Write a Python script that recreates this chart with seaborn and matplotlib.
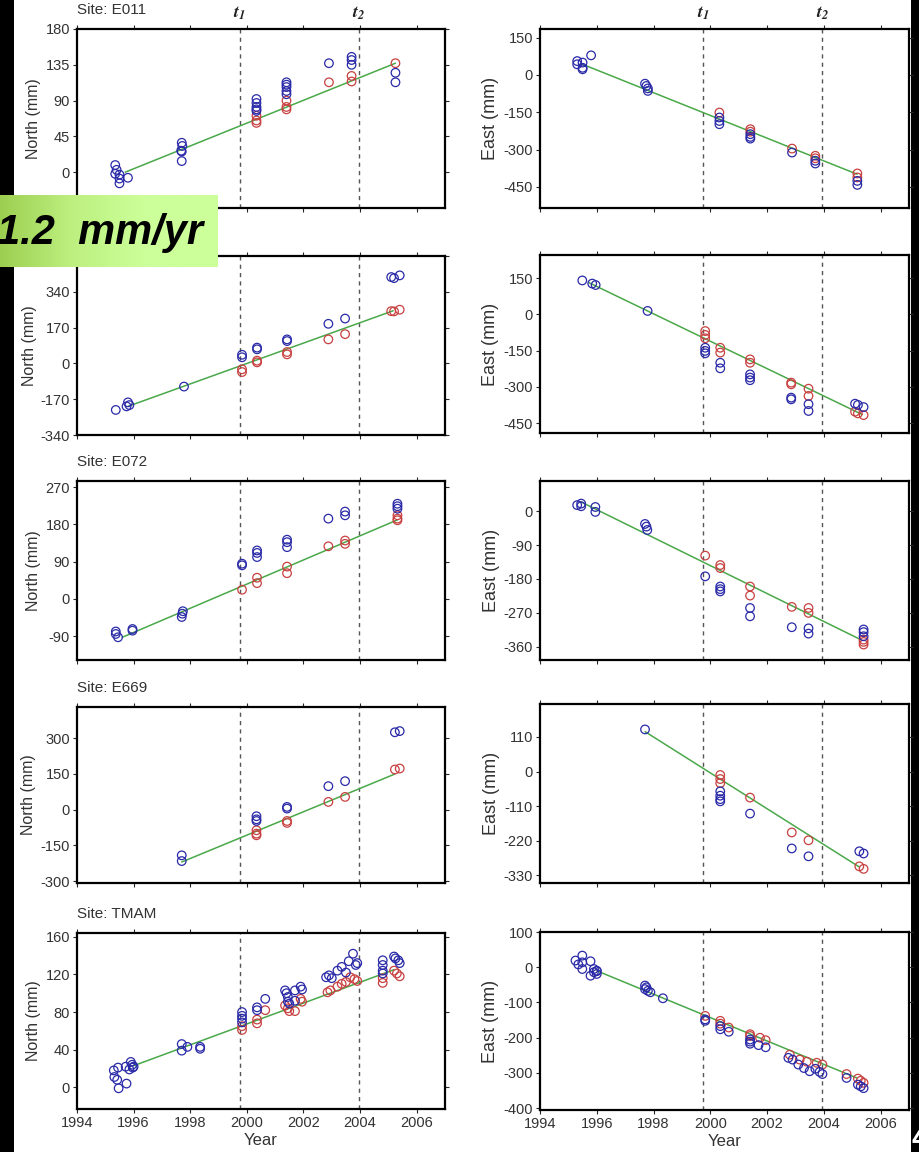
import numpy as np
import seaborn as sns
import matplotlib
matplotlib.use("Agg")
import matplotlib.pyplot as plt
from matplotlib.patches import Rectangle
from matplotlib.colors import LinearSegmentedColormap
import matplotlib.transforms as mtransforms

sns.set_style("ticks")
plt.rcParams['font.family'] = ['Liberation Sans', 'DejaVu Sans']
plt.rcParams['mathtext.fontset'] = 'stix'
plt.rcParams['axes.unicode_minus'] = False

# ---- data ----
t1, t2 = 1999.75, 2003.95
sites = ["Site: E011", "", "Site: E072", "Site: E669", "Site: TMAM"]

# E011
e011_n_blue_t = [1995.35, 1995.35, 1995.4, 1995.5, 1995.5, 1995.5, 1995.8, 1997.7, 1997.72, 1997.68, 1997.7, 1997.7,
                 2000.34, 2000.34, 2000.34, 2000.34, 2000.34, 2001.4, 2001.4, 2001.4, 2001.4, 2001.4,
                 2002.9, 2003.7, 2003.7, 2003.7, 2005.25, 2005.25]
e011_n_blue = [9, -2, 3, -3, -8, -14, -7, 37, 33, 27, 26, 14, 92, 87, 82, 79, 77, 113, 110, 107, 102, 98,
               137, 145, 141, 135, 125, 113]
e011_n_red_t = [2000.34, 2000.34, 2000.34, 2001.4, 2001.4, 2001.4, 2002.9, 2003.7, 2003.7, 2005.25]
e011_n_red = [71, 65, 62, 90, 82, 79, 113, 121, 114, 137]
e011_n_fit_t = [1995.7, 2005.25]
e011_n_fit = [0, 137]

e011_e_blue_t = [1995.31, 1995.31, 1995.5, 1995.5, 1995.5, 1995.8, 1997.7, 1997.75, 1997.8, 1997.8,
                 2000.32, 2000.32, 2000.32, 2001.41, 2001.41, 2001.41, 2002.88, 2003.7, 2003.7, 2005.18, 2005.18]
e011_e_blue = [56, 43, 50, 29, 23, 79, -35, -44, -54, -64, -171, -185, -198, -238, -249, -256, -312,
               -345, -356, -426, -442]
e011_e_red_t = [2000.32, 2001.41, 2001.41, 2002.88, 2003.7, 2003.7, 2005.18, 2005.18]
e011_e_red = [-151, -218, -228, -296, -325, -335, -396, -412]
e011_e_fit_t = [1995.5, 2005.17]
e011_e_fit = [43, -399]

# second site (name hidden under the label)
s2_n_blue_t = [1995.37, 1995.75, 1995.8, 1995.85, 1997.78, 1999.83, 1999.83, 2000.36, 2000.36, 2001.42, 2001.42,
               2002.88, 2003.47, 2005.1, 2005.2, 2005.4]
s2_n_blue = [-221, -204, -185, -198, -110, 41, 29, 75, 67, 114, 106, 188, 213, 410, 405, 418]
s2_n_red_t = [1999.83, 1999.83, 2000.36, 2000.36, 2001.42, 2001.42, 2002.88, 2003.47, 2005.1, 2005.2, 2005.4]
s2_n_red = [-28, -41, 13, 5, 54, 43, 114, 139, 248, 247, 255]
s2_n_fit_t = [1995.8, 2005.17]
s2_n_fit = [-204, 250]

s2_e_blue_t = [1995.49, 1995.84, 1995.96, 1997.79, 1999.82, 1999.82, 1999.82, 2000.35, 2000.35, 2001.4, 2001.4,
               2001.4, 2002.85, 2002.85, 2003.46, 2003.46, 2005.1, 2005.2, 2005.4]
s2_e_blue = [140, 127, 121, 14, -138, -151, -161, -200, -223, -248, -261, -272, -344, -351, -371, -399,
             -369, -374, -383]
s2_e_red_t = [1999.82, 1999.82, 1999.82, 2000.35, 2000.35, 2001.4, 2001.4, 2002.85, 2002.85, 2003.46, 2003.46,
              2005.1, 2005.2, 2005.4]
s2_e_red = [-69, -85, -99, -138, -158, -186, -200, -282, -289, -307, -337, -402, -409, -416]
s2_e_fit_t = [1995.72, 2005.34]
s2_e_fit = [131, -413]

# E072
e072_n_blue_t = [1995.37, 1995.37, 1995.45, 1995.96, 1995.96, 1997.7, 1997.72, 1997.74, 1999.83, 1999.83,
                 2000.36, 2000.36, 2000.36, 2001.42, 2001.42, 2001.42, 2002.88, 2003.47, 2003.47,
                 2005.32, 2005.32, 2005.32]
e072_n_blue = [-79, -85, -93, -73, -77, -44, -36, -30, 85, 81, 117, 111, 101, 143, 137, 125, 194, 211, 202,
               230, 224, 218]
e072_n_red_t = [1999.83, 2000.36, 2000.36, 2001.42, 2001.42, 2002.88, 2003.47, 2003.47, 2005.32, 2005.32, 2005.32]
e072_n_red = [22, 51, 38, 78, 62, 127, 141, 133, 202, 194, 190]
e072_n_fit_t = [1995.6, 2005.32]
e072_n_fit = [-93, 191]

e072_e_blue_t = [1995.31, 1995.45, 1995.45, 1995.95, 1995.95, 1997.7, 1997.75, 1997.78, 1999.82,
                 2000.35, 2000.35, 2000.35, 2001.4, 2001.4, 2002.87, 2003.46, 2003.46, 2005.4, 2005.4, 2005.4]
e072_e_blue = [16, 20, 13, 11, -2, -34, -41, -50, -173, -200, -207, -213, -257, -279, -308, -311, -325,
               -314, -321, -332]
e072_e_red_t = [1999.82, 2000.35, 2000.35, 2001.4, 2001.4, 2002.87, 2003.46, 2003.46, 2005.4, 2005.4, 2005.4]
e072_e_red = [-118, -143, -151, -200, -224, -254, -257, -270, -341, -347, -354]
e072_e_fit_t = [1995.43, 2005.3]
e072_e_fit = [25, -341]

# E669
e669_n_blue_t = [1997.7, 1997.7, 2000.34, 2000.34, 2000.34, 2001.42, 2001.42, 2002.88, 2003.47, 2005.23, 2005.4]
e669_n_blue = [-192, -216, -28, -41, -48, 11, 4, 98, 119, 324, 329]
e669_n_red_t = [2000.34, 2000.34, 2000.34, 2001.42, 2001.42, 2002.88, 2003.47, 2005.23, 2005.4]
e669_n_red = [-87, -101, -108, -48, -56, 32, 53, 168, 172]
e669_n_fit_t = [1997.7, 2005.23]
e669_n_fit = [-220, 149]

e669_e_blue_t = [1997.7, 2000.35, 2000.35, 2000.35, 2000.35, 2001.4, 2002.87, 2003.46, 2005.25, 2005.4]
e669_e_blue = [134, -63, -77, -88, -95, -134, -245, -270, -254, -261]
e669_e_red_t = [2000.35, 2000.35, 2000.35, 2001.4, 2002.87, 2003.46, 2005.25, 2005.4]
e669_e_red = [-11, -24, -37, -83, -194, -219, -302, -310]
e669_e_fit_t = [1997.7, 2005.25]
e669_e_fit = [127, -304]

# TMAM
tmam_n_blue_t = [1995.3, 1995.32, 1995.42, 1995.45, 1995.47, 1995.75, 1995.72, 1995.85, 1995.9, 1995.95,
                 1995.97, 1996.0, 1997.7, 1997.7, 1997.9, 1998.35, 1998.35, 1999.83, 1999.83, 1999.83,
                 1999.83, 2000.36, 2000.36, 2000.65, 2001.35, 2001.4, 2001.45, 2001.45, 2001.5, 2001.7,
                 2001.7, 2001.9, 2001.95, 2002.8, 2002.9, 2003.0, 2003.2, 2003.35, 2003.5, 2003.6, 2003.75,
                 2003.85, 2003.9, 2004.8, 2004.8, 2004.8, 2004.8, 2005.2, 2005.25, 2005.35, 2005.4]
tmam_n_blue = [18, 11, 8, 21, -1, 4, 22, 19, 27, 24, 21, 22, 46, 39, 43, 43, 41, 80, 76, 73, 69, 85, 82, 94,
               103, 100, 96, 91, 89, 103, 92, 107, 104, 117, 119, 116, 124, 128, 122, 134, 142, 130, 132,
               135, 130, 124, 121, 139, 137, 135, 132]
tmam_n_red_t = [1999.83, 1999.83, 2000.36, 2000.36, 2000.65, 2001.35, 2001.45, 2001.5, 2001.7, 2001.9,
                2001.95, 2002.85, 2002.95, 2003.2, 2003.35, 2003.5, 2003.65, 2003.8, 2003.9, 2004.8, 2004.8,
                2005.2, 2005.3, 2005.4]
tmam_n_red = [65, 61, 72, 68, 82, 87, 84, 81, 81, 94, 91, 101, 103, 107, 110, 112, 117, 115, 113, 116, 111,
              124, 121, 118]
tmam_n_fit_t = [1996.0, 2005.2]
tmam_n_fit = [23, 125]

tmam_e_blue_t = [1995.25, 1995.35, 1995.49, 1995.49, 1995.49, 1995.78, 1995.78, 1995.9, 1995.9, 1996.0,
                 1996.0, 1996.0, 1997.7, 1997.7, 1997.75, 1997.8, 1997.89, 1998.33, 1999.82, 1999.82,
                 2000.35, 2000.35, 2000.65, 2001.4, 2001.4, 2001.4, 2001.7, 2001.95, 2002.75, 2002.9,
                 2003.1, 2003.3, 2003.5, 2003.7, 2003.85, 2003.95, 2004.8, 2005.2, 2005.3, 2005.4]
tmam_e_blue = [19, 8, 33, 14, -5, 17, -24, -5, -14, -10, -19, -11, -52, -62, -57, -67, -71, -88, -148, -152,
               -167, -176, -183, -205, -211, -217, -221, -227, -257, -262, -276, -286, -295, -288, -297,
               -303, -314, -333, -338, -343]
tmam_e_red_t = [1999.82, 2000.35, 2000.35, 2000.65, 2001.4, 2001.4, 2001.75, 2001.95, 2002.8, 2003.15,
                2003.4, 2003.75, 2003.95, 2004.8, 2005.2, 2005.3, 2005.4]
tmam_e_red = [-138, -152, -160, -171, -190, -195, -200, -207, -248, -262, -268, -271, -276, -303, -316,
              -322, -328]
tmam_e_fit_t = [1996.0, 2005.16]
tmam_e_fit = [-10, -314]

# tick label of 510 sits under the rate label in the original
north_ticks = [[0, 45, 90, 135, 180], [-340, -170, 0, 170, 340, 510], [-90, 0, 90, 180, 270],
               [-300, -150, 0, 150, 300], [0, 40, 80, 120, 160]]
north_hidden = [[], [510], [], [], []]
east_ticks = [[-450, -300, -150, 0, 150], [-450, -300, -150, 0, 150], [-360, -270, -180, -90, 0],
              [-330, -220, -110, 0, 110], [-400, -300, -200, -100, 0, 100]]
north_lims = [(-45, 180), (-340, 510), (-148, 285), (-308, 430), (-23, 164)]
east_lims = [(-535, 185), (-490, 245), (-395, 80), (-355, 215), (-405, 100)]
year_ticks = [1994, 1996, 1998, 2000, 2002, 2004, 2006]

north = [(e011_n_blue_t, e011_n_blue, e011_n_red_t, e011_n_red, e011_n_fit_t, e011_n_fit),
         (s2_n_blue_t, s2_n_blue, s2_n_red_t, s2_n_red, s2_n_fit_t, s2_n_fit),
         (e072_n_blue_t, e072_n_blue, e072_n_red_t, e072_n_red, e072_n_fit_t, e072_n_fit),
         (e669_n_blue_t, e669_n_blue, e669_n_red_t, e669_n_red, e669_n_fit_t, e669_n_fit),
         (tmam_n_blue_t, tmam_n_blue, tmam_n_red_t, tmam_n_red, tmam_n_fit_t, tmam_n_fit)]
east = [(e011_e_blue_t, e011_e_blue, e011_e_red_t, e011_e_red, e011_e_fit_t, e011_e_fit),
        (s2_e_blue_t, s2_e_blue, s2_e_red_t, s2_e_red, s2_e_fit_t, s2_e_fit),
        (e072_e_blue_t, e072_e_blue, e072_e_red_t, e072_e_red, e072_e_fit_t, e072_e_fit),
        (e669_e_blue_t, e669_e_blue, e669_e_red_t, e669_e_red, e669_e_fit_t, e669_e_fit),
        (tmam_e_blue_t, tmam_e_blue, tmam_e_red_t, tmam_e_red, tmam_e_fit_t, tmam_e_fit)]

W, H = 919, 1152
BLUE, RED, GREEN = "#2a2aa8", "#c84040", "#4aa84a"
TXT = "#333333"

fig = plt.figure(figsize=(W / 100, H / 100), dpi=100, facecolor="black")
fig.patches.append(Rectangle((14 / W, 0), (911 - 14) / W, 1, transform=fig.transFigure,
                             facecolor="white", edgecolor="none", zorder=-5))


def px_box(x0, x1, y0, y1):
    return [x0 / W, 1 - y1 / H, (x1 - x0) / W, (y1 - y0) / H]


left_rows = [(29, 208), (256, 435), (481, 660), (707, 883), (933, 1109)]
right_rows = [(29, 208), (255, 433), (481, 660), (704, 883), (932, 1110)]


def draw_panel(ax, d, ticks, lims, ylabel, label_size, last, hidden=()):
    bt, bv, rt, rv, ft, fv = d
    ax.axvline(t1, color="#555555", lw=1, ls=(0, (3, 3)), zorder=1)
    ax.axvline(t2, color="#555555", lw=1, ls=(0, (3, 3)), zorder=1)
    sns.lineplot(x=ft, y=fv, ax=ax, color=GREEN, lw=1.1, zorder=2)
    sns.scatterplot(x=rt, y=rv, ax=ax, marker="o", s=38, facecolors="none",
                    edgecolor=RED, linewidth=0.9, zorder=3)
    sns.scatterplot(x=bt, y=bv, ax=ax, marker="o", s=38, facecolors="none",
                    edgecolor=BLUE, linewidth=0.9, zorder=4)
    ax.set_xlim(1994, 2007)
    ax.set_ylim(*lims)
    ax.set_xticks(year_ticks)
    ax.set_yticks(ticks)
    ax.set_yticklabels(["" if v in hidden else str(v) for v in ticks])
    ax.tick_params(direction="out", length=3, width=0.8, top=True, right=True,
                   labelsize=10.5, labelcolor=TXT, pad=2)
    for s in ax.spines.values():
        s.set_visible(True)
        s.set_linewidth(1.6)
        s.set_color("black")
    ax.set_ylabel(ylabel, fontsize=label_size, color=TXT, labelpad=3)
    if last:
        ax.set_xlabel("Year", fontsize=12, color=TXT, labelpad=2)
    else:
        ax.set_xlabel("")
        ax.set_xticklabels([])


for i in range(5):
    axl = fig.add_axes(px_box(77, 445, *left_rows[i]))
    draw_panel(axl, north[i], north_ticks[i], north_lims[i], "North (mm)", 11.5, i == 4,
               north_hidden[i])
    if sites[i]:
        axl.text(0, 1 + 19 / 179, sites[i], transform=axl.transAxes, ha="left", va="center",
                 fontsize=11, color=TXT)
    axr = fig.add_axes(px_box(540, 909, *right_rows[i]))
    draw_panel(axr, east[i], east_ticks[i], east_lims[i], "East (mm)", 13, i == 4)
    if i == 0:
        for ax in (axl, axr):
            tr = mtransforms.blended_transform_factory(ax.transData, ax.transAxes)
            ax.text(t1, 1 + 16 / 179, r"$\mathbfit{t}_{\mathbfit{1}}$", transform=tr,
                    ha="center", va="center", fontsize=13, color="#222222")
            ax.text(t2, 1 + 16 / 179, r"$\mathbfit{t}_{\mathbfit{2}}$", transform=tr,
                    ha="center", va="center", fontsize=13, color="#222222")

# green rate label overlay
gax = fig.add_axes(px_box(0, 218, 195, 267), zorder=10)
grad = np.linspace(0, 1, 256).reshape(1, -1)
cmap = LinearSegmentedColormap.from_list("g", ["#9ccf50", "#bdf080", "#ccff99", "#ccff99"])
gax.imshow(grad, aspect="auto", cmap=cmap, extent=(0, 1, 0, 1))
gax.set_xlim(0, 1)
gax.set_ylim(0, 1)
gax.axis("off")
gax.text(-3 / 218, 0.47, "1.2  mm/yr", transform=gax.transAxes, ha="left", va="center",
         fontsize=30, fontweight="bold", fontstyle="italic", color="black", clip_on=True)

# slide number fragment
fig.text(912 / W, 1 - 1140 / H, "4", color="white", fontsize=22, fontweight="bold",
         ha="left", va="center")

fig.savefig("out.png", dpi=100, facecolor="black")
